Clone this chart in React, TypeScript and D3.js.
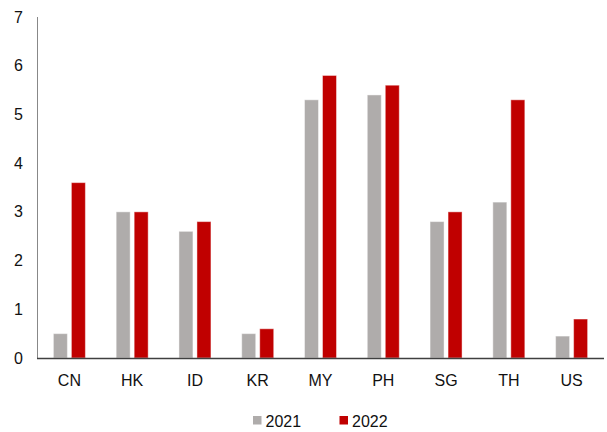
import React from "react";
import * as d3 from "d3";

const categories = ["CN", "HK", "ID", "KR", "MY", "PH", "SG", "TH", "US"];
const seriesNames = ["2021", "2022"];
const values2021 = [0.5, 3.0, 2.6, 0.5, 5.3, 5.4, 2.8, 3.2, 0.45];
const values2022 = [3.6, 3.0, 2.8, 0.6, 5.8, 5.6, 3.0, 5.3, 0.8];
const yTicks = [0, 1, 2, 3, 4, 5, 6, 7];
const colors = ["#afacab", "#c00000"];

const W = 607;
const H = 432;
const FONT = "'Liberation Sans', Arial, sans-serif";

export default function App() {
  const y = d3.scaleLinear().domain([0, 7]).range([358, 17]);
  const x = d3.scaleBand<string>().domain(categories).range([38, 603]).padding(0);
  const bw = x.bandwidth();
  const inner = d3
    .scaleBand<string>()
    .domain(seriesNames)
    .range([bw / 2 - 16, bw / 2 + 16])
    .paddingInner(0.2222)
    .paddingOuter(0);
  const series = [values2021, values2022];

  return (
    <svg
      width={W}
      height={H}
      style={{ position: "absolute", left: 0, top: 0, background: "#fff" }}
      fontFamily={FONT}
    >
      {/* bars */}
      {categories.map((c, i) => (
        <g key={c} transform={`translate(${x(c)},0)`}>
          {seriesNames.map((s, j) => {
            const v = series[j][i];
            return (
              <rect
                key={s}
                x={inner(s)}
                y={y(v)}
                width={inner.bandwidth()}
                height={y(0) - y(v)}
                fill={colors[j]}
                stroke="#ffffff"
                strokeOpacity={0.45}
                strokeWidth={1}
              />
            );
          })}
        </g>
      ))}

      {/* y axis */}
      <line x1={37.5} x2={37.5} y1={y(7)} y2={y(0)} stroke="#888888" strokeWidth={1} />
      {yTicks.map((t) => (
        <text
          key={t}
          x={23}
          y={y(t)}
          textAnchor="end"
          dominantBaseline="central"
          fontSize={16}
          fill="#111"
        >
          {t}
        </text>
      ))}

      {/* x axis */}
      <line x1={37} x2={604} y1={358.5} y2={358.5} stroke="#404040" strokeWidth={1.5} />
      {categories.map((c) => (
        <text
          key={c}
          x={(x(c) as number) + bw / 2}
          y={380}
          textAnchor="middle"
          dominantBaseline="central"
          fontSize={16}
          fill="#111"
        >
          {c}
        </text>
      ))}

      {/* legend */}
      {seriesNames.map((s, j) => {
        const lx = 253 + j * 86.5;
        return (
          <g key={s} transform={`translate(${lx},0)`}>
            <rect x={0} y={416} width={8.5} height={8.5} fill={colors[j]} />
            <text x={12.5} y={421} dominantBaseline="central" fontSize={16} fill="#111">
              {s}
            </text>
          </g>
        );
      })}
    </svg>
  );
}
